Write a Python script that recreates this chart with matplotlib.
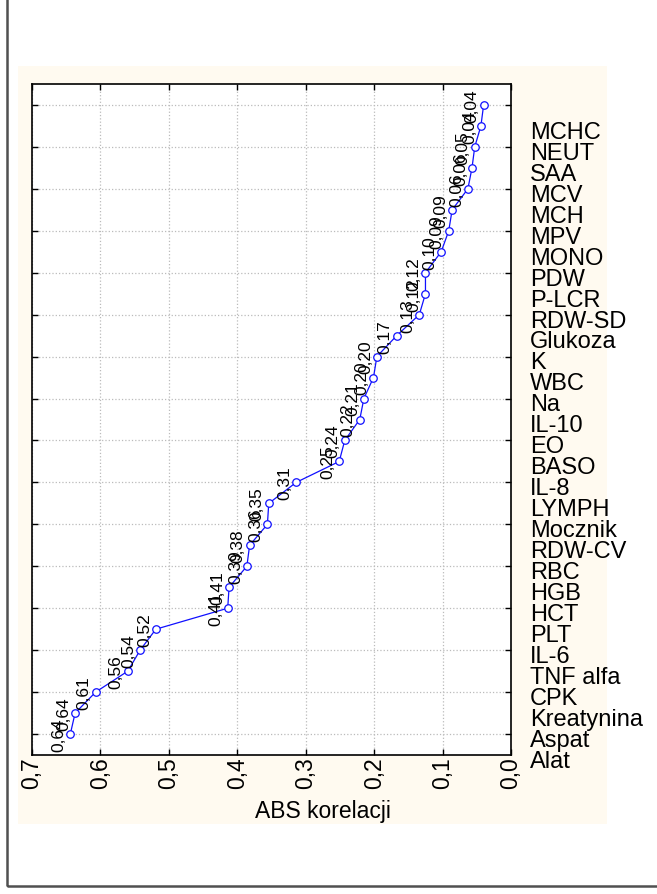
import matplotlib.pyplot as plt
from matplotlib.patches import Rectangle
from matplotlib.transforms import ScaledTranslation

# variables, bottom (Alat) to top (MCHC)
names = ['Alat', 'Aspat', 'Kreatynina', 'CPK', 'TNF alfa', 'IL-6', 'PLT', 'HCT',
         'HGB', 'RBC', 'RDW-CV', 'Mocznik', 'LYMPH', 'IL-8', 'BASO', 'EO',
         'IL-10', 'Na', 'WBC', 'K', 'Glukoza', 'RDW-SD', 'P-LCR', 'PDW',
         'MONO', 'MPV', 'MCH', 'MCV', 'SAA', 'NEUT', 'MCHC']

# ABS correlation of the plotted points, bottom to top
abs_corr = [0.644, 0.637, 0.607, 0.560, 0.542, 0.519, 0.414, 0.412, 0.386, 0.382,
            0.356, 0.354, 0.314, 0.251, 0.243, 0.221, 0.215, 0.201, 0.196, 0.167,
            0.134, 0.125, 0.125, 0.102, 0.091, 0.086, 0.063, 0.057, 0.053, 0.044,
            0.040]

xticks = [0.7, 0.6, 0.5, 0.4, 0.3, 0.2, 0.1, 0.0]

plt.rcParams['font.family'] = ['Liberation Sans', 'DejaVu Sans']

W, H = 657, 895
fig = plt.figure(figsize=(W / 100, H / 100), dpi=100)

# outer frame (cropped, only left and bottom visible)
fig.patches.append(Rectangle((7 / W, 1 - 887 / H), 2, 2, transform=fig.transFigure,
                             fill=False, edgecolor='#505050', lw=1.8, zorder=-20))
# cream panel
fig.patches.append(Rectangle((18 / W, 1 - 825 / H), (607 - 18) / W, (825 - 67) / H,
                             transform=fig.transFigure, facecolor='#FFFAF0',
                             edgecolor='none', zorder=-10))

ax = fig.add_axes([32 / W, 1 - 756 / H, (511 - 32) / W, (756 - 85) / H])
ax.set_facecolor('white')

y = list(range(len(abs_corr)))
ax.plot(abs_corr, y, color='#1010FF', lw=0.9, marker='o', ms=5.4,
        mfc='white', mec='#1010FF', mew=0.9, zorder=3)

for v, yy in zip(abs_corr, y):
    ax.annotate(('%.2f' % v).replace('.', ','), (v, yy), xytext=(-5, 0),
                textcoords='offset points', rotation=90, rotation_mode='anchor',
                ha='center', va='baseline', fontsize=12.5, zorder=4)

ax.set_xlim(0.7, 0.0)
ax.set_ylim(-1, 31)
ax.set_xticks(xticks)
ax.set_xticklabels([('%.1f' % t).replace('.', ',') for t in xticks],
                   rotation=90, fontsize=16.5)
for lab in ax.get_xticklabels():
    lab.set_transform(lab.get_transform() + ScaledTranslation(6 / 72, 0, fig.dpi_scale_trans))
ax.set_yticks(range(0, 31, 2))
ax.set_yticklabels([])
ax.tick_params(direction='in', length=4, width=1, top=True, right=True, pad=1)
ax.grid(True, color='#BBBBBB', ls=':', lw=0.9)
ax.set_axisbelow(True)
for s in ax.spines.values():
    s.set_linewidth(1.2)

for k, n in enumerate(names):
    ax.text(1.04, k - 1.28, n, transform=ax.get_yaxis_transform(),
            ha='left', va='center', fontsize=17, clip_on=False)

fig.text(323 / W, 1 - 812 / H, 'ABS korelacji', ha='center', va='center', fontsize=16.5)

fig.savefig('out.png', dpi=100)
